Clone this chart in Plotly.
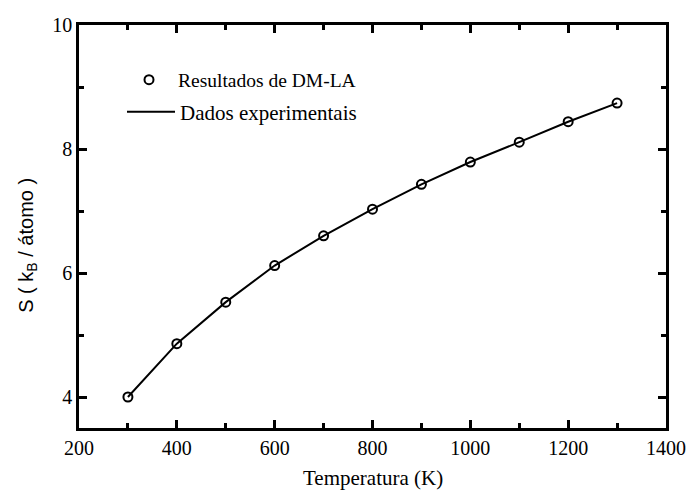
import plotly.graph_objects as go

temperatura = [300, 400, 500, 600, 700, 800, 900, 1000, 1100, 1200, 1300]
s_dmla = [4.00, 4.86, 5.53, 6.12, 6.60, 7.03, 7.43, 7.79, 8.11, 8.44, 8.74]
s_exp = [4.00, 4.86, 5.53, 6.12, 6.60, 7.03, 7.43, 7.79, 8.11, 8.44, 8.74]

x_ticks = [200, 400, 600, 800, 1000, 1200, 1400]
y_ticks = [4, 6, 8, 10]

serif = "Liberation Serif"
sans = "Liberation Sans"

fig = go.Figure()
fig.add_trace(go.Scatter(
    x=temperatura, y=s_dmla, mode="markers", name="Resultados de DM-LA",
    marker=dict(symbol="circle-open", size=9, color="black", line=dict(width=2, color="black")),
    legend="legend",
))
fig.add_trace(go.Scatter(
    x=temperatura, y=s_exp, mode="lines", name="Dados experimentais",
    line=dict(color="black", width=2),
    legend="legend2",
))

axis_common = dict(
    showline=True, linecolor="black", linewidth=2.5, mirror="ticks",
    ticks="inside", ticklen=8, tickwidth=2.5, tickcolor="black",
    showgrid=False, zeroline=False, automargin=False,
    tickfont=dict(family=serif, size=20, color="black"),
)

fig.update_xaxes(
    range=[200, 1400], tickvals=x_ticks,
    minor=dict(dtick=100, tick0=200, ticks="inside", ticklen=5, tickwidth=2.5, tickcolor="black"),
    **axis_common,
)
fig.update_yaxes(
    range=[3.5, 10], tickvals=y_ticks,
    minor=dict(dtick=1, tick0=4, ticks="inside", ticklen=5, tickwidth=2.5, tickcolor="black"),
    **axis_common,
)

fig.add_annotation(
    text="S ( k<sub>B</sub> / átomo )", textangle=-90,
    xref="paper", yref="paper", x=-0.089, y=0.454,
    xanchor="center", yanchor="middle", showarrow=False,
    font=dict(family=sans, size=20, color="black"),
)
fig.add_annotation(
    text="Temperatura (K)",
    xref="paper", yref="paper", x=0.5, y=(428 - 492) / 403,
    xanchor="center", yanchor="bottom", showarrow=False,
    font=dict(family=serif, size=21, color="black"),
)

legend_common = dict(
    xanchor="left", yanchor="middle",
    bgcolor="rgba(0,0,0,0)", borderwidth=0,
    itemwidth=48,
)

fig.update_layout(
    width=689, height=493,
    margin=dict(l=79, r=23, t=25, b=65),
    plot_bgcolor="white", paper_bgcolor="white",
    showlegend=True,
    legend=dict(x=(120 - 79) / 587, y=(428 - 80) / 403,
                font=dict(family=serif, size=19.5, color="black"), **legend_common),
    legend2=dict(x=(122 - 79) / 587, y=(428 - 112) / 403,
                 font=dict(family=serif, size=21, color="black"), **legend_common),
)

fig.write_html("out.html")
